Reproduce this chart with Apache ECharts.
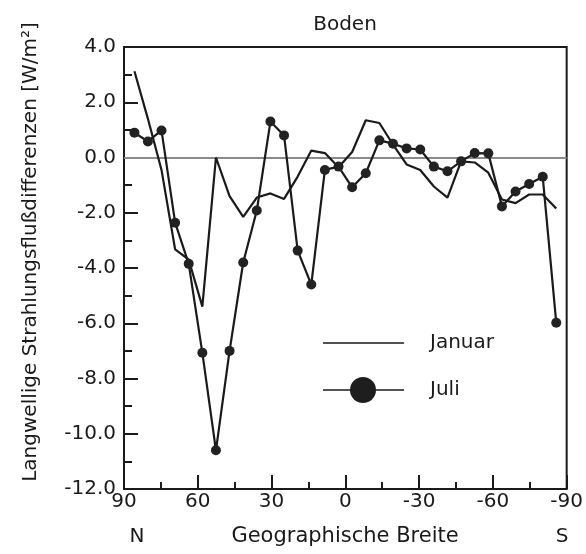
<!DOCTYPE html>
<html>
<head>
<meta charset="utf-8">
<script src="https://cdn.jsdelivr.net/npm/echarts@6/dist/echarts.min.js"></script>
<style>html,body{margin:0;padding:0;background:#fff;}#c{width:586px;height:554px;}</style>
</head>
<body>
<div id="c"></div>
<script>
// Latitudes (T21 Gaussian grid), north to south
var latitudes = [85.76, 80.27, 74.75, 69.21, 63.68, 58.14, 52.61, 47.07, 41.53, 36.00, 30.46, 24.92, 19.38, 13.84, 8.31, 2.77,
  -2.77, -8.31, -13.84, -19.38, -24.92, -30.46, -36.00, -41.53, -47.07, -52.61, -58.14, -63.68, -69.21, -74.75, -80.27, -85.76];
var januar = [3.12, 1.4, -0.45, -3.33, -3.7, -5.4, 0.0, -1.4, -2.15, -1.45, -1.3, -1.5, -0.69, 0.25, 0.16, -0.35,
  0.2, 1.35, 1.25, 0.47, -0.25, -0.45, -1.05, -1.45, -0.14, -0.18, -0.55, -1.52, -1.65, -1.34, -1.34, -1.85];
var juli = [0.9, 0.58, 0.98, -2.36, -3.85, -7.07, -10.6, -7.0, -3.8, -1.92, 1.3, 0.8, -3.37, -4.6, -0.45, -0.33,
  -1.08, -0.57, 0.62, 0.5, 0.33, 0.29, -0.33, -0.5, -0.14, 0.16, 0.15, -1.77, -1.23, -0.96, -0.7, -5.98];
var xTicks = [90, 60, 30, 0, -30, -60, -90];
var yTicks = [4.0, 2.0, 0.0, -2.0, -4.0, -6.0, -8.0, -10.0, -12.0];

var FONT = 'DejaVu Sans';
var INK = '#1a1a1a';
function pairs(vals) { return latitudes.map(function (la, i) { return [la, vals[i]]; }); }

var chart = echarts.init(document.getElementById('c'), null, {renderer: 'canvas'});
chart.setOption({
  animation: false,
  backgroundColor: '#fff',
  grid: {left: 124, right: 15, top: 47, bottom: 65, show: true, borderColor: INK, borderWidth: 2, backgroundColor: 'transparent'},
  xAxis: {
    type: 'value', min: -90, max: 90, interval: 30, inverse: true,
    axisLine: {show: false, onZero: false},
    axisTick: {show: true, inside: true, length: 14, lineStyle: {color: INK, width: 2}},
    minorTick: {show: true, splitNumber: 2, length: 7, lineStyle: {color: INK, width: 2}},
    splitLine: {show: false},
    axisLabel: {margin: 3, color: INK, fontFamily: FONT, fontSize: 20,
      formatter: function (v) { return xTicks.indexOf(v) >= 0 ? String(v) : ''; }}
  },
  yAxis: {
    type: 'value', min: -12, max: 4, interval: 2,
    axisLine: {show: false, onZero: false},
    axisTick: {show: true, inside: true, length: 14, lineStyle: {color: INK, width: 2}},
    minorTick: {show: true, splitNumber: 2, length: 8, lineStyle: {color: INK, width: 2}},
    splitLine: {show: false},
    axisLabel: {margin: 8, color: INK, fontFamily: FONT, fontSize: 20,
      formatter: function (v) { return yTicks.indexOf(v) >= 0 ? v.toFixed(1) : ''; }}
  },
  series: [
    {
      name: 'Januar', type: 'line', data: pairs(januar), showSymbol: false, symbol: 'none',
      lineStyle: {color: INK, width: 2.2}, z: 3,
      markLine: {silent: true, symbol: 'none', label: {show: false},
        lineStyle: {color: '#8a8a8a', width: 2, type: 'solid'}, data: [{yAxis: 0}], z: 1}
    },
    {
      name: 'Juli', type: 'line', data: pairs(juli), symbol: 'circle', symbolSize: 10,
      itemStyle: {color: '#222'}, lineStyle: {color: INK, width: 2.2}, z: 4
    }
  ],
  graphic: [
    {type: 'text', x: 345, y: 25, style: {text: 'Boden', fill: INK, font: '20px ' + FONT, textAlign: 'center', textVerticalAlign: 'middle'}},
    {type: 'text', x: 31, y: 252, rotation: Math.PI / 2,
      style: {text: 'Langwellige Strahlungsflußdifferenzen [W/m²]', fill: INK, font: '20px ' + FONT, textAlign: 'center', textVerticalAlign: 'middle'}},
    {type: 'text', x: 137, y: 537, style: {text: 'N', fill: INK, font: '20px ' + FONT, textAlign: 'center', textVerticalAlign: 'middle'}},
    {type: 'text', x: 345, y: 537, style: {text: 'Geographische Breite', fill: INK, font: '21px ' + FONT, textAlign: 'center', textVerticalAlign: 'middle'}},
    {type: 'text', x: 562, y: 537, style: {text: 'S', fill: INK, font: '20px ' + FONT, textAlign: 'center', textVerticalAlign: 'middle'}},
    {type: 'line', shape: {x1: 323, y1: 343, x2: 404, y2: 343}, style: {stroke: INK, lineWidth: 1.5}, z: 10},
    {type: 'text', x: 430, y: 343, style: {text: 'Januar', fill: INK, font: '20px ' + FONT, textAlign: 'left', textVerticalAlign: 'middle'}, z: 10},
    {type: 'line', shape: {x1: 323, y1: 390, x2: 404, y2: 390}, style: {stroke: INK, lineWidth: 1.5}, z: 10},
    {type: 'circle', shape: {cx: 363, cy: 390, r: 13}, style: {fill: '#1e1e1e'}, z: 11},
    {type: 'text', x: 430, y: 390, style: {text: 'Juli', fill: INK, font: '20px ' + FONT, textAlign: 'left', textVerticalAlign: 'middle'}, z: 10}
  ]
});
</script>
</body>
</html>
